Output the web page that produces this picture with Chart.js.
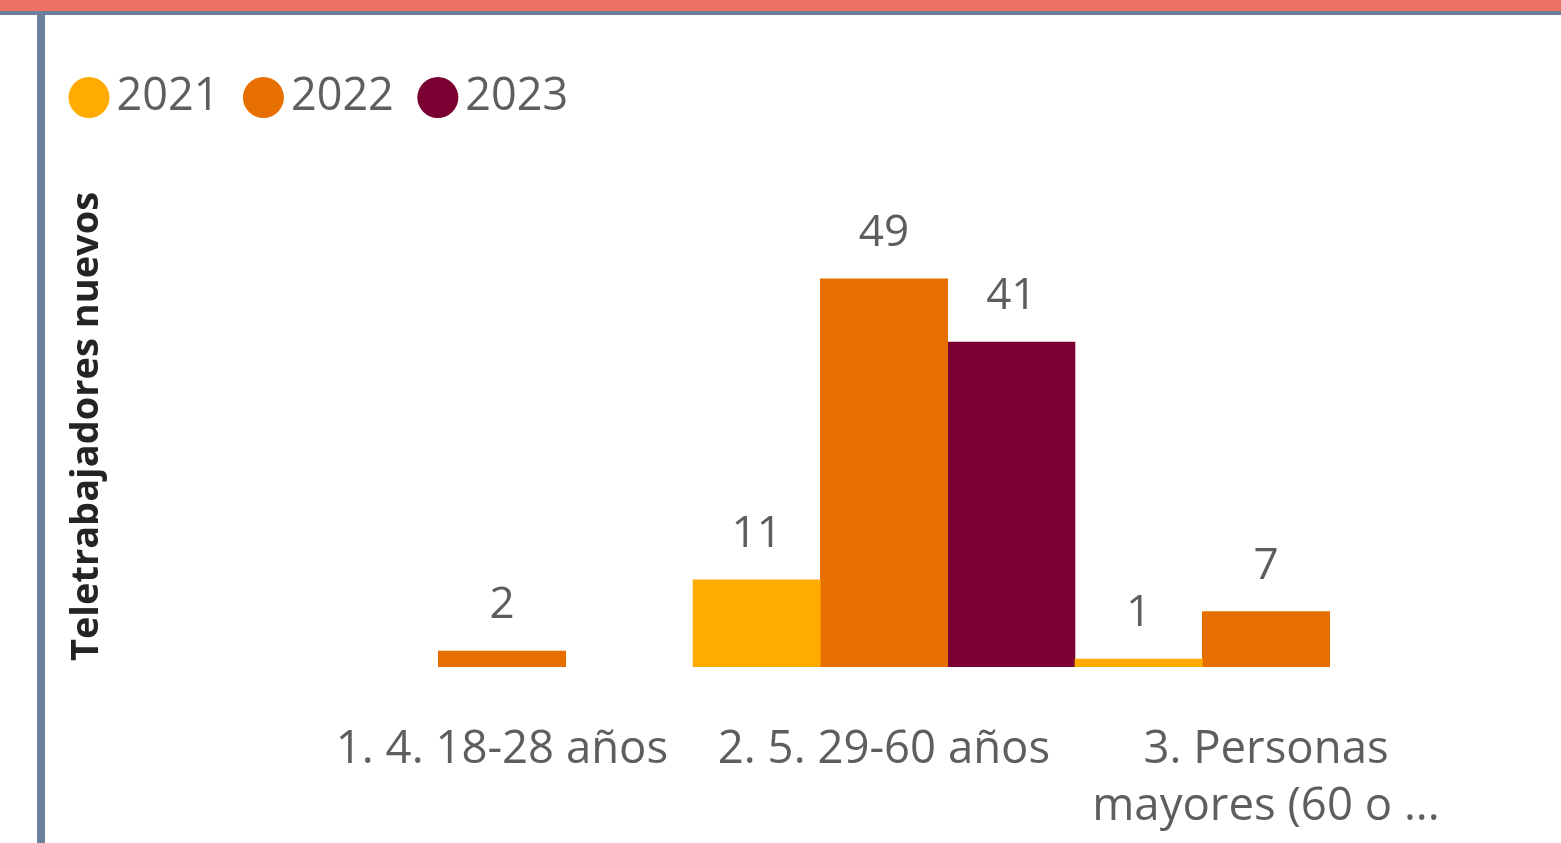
<!DOCTYPE html>
<html>
<head>
<meta charset="utf-8">
<script src="https://cdn.jsdelivr.net/npm/chart.js@4/dist/chart.umd.min.js"></script>
<style>
  html, body { margin: 0; padding: 0; background: #fff; overflow: hidden; }
  #wrap { position: relative; width: 1561px; height: 843px; }
  .topbar { position: absolute; left: 0; top: 0; width: 1561px; height: 11px; background: #ec7364; }
  .topline { position: absolute; left: 0; top: 11px; width: 1561px; height: 4px; background: #6c7f9b; }
  .leftbar { position: absolute; left: 37px; top: 15px; width: 8px; height: 828px; background: #6c7f9b; }
  #box { position: absolute; left: 0; top: 0; width: 1561px; height: 843px; }
</style>
</head>
<body>
<div id="wrap">
  <div class="topbar"></div>
  <div class="topline"></div>
  <div class="leftbar"></div>
  <div id="box"><canvas id="chart"></canvas></div>
</div>
<script>
const categories = [
  "1. 4. 18-28 años",
  "2. 5. 29-60 años",
  ["3. Personas", "mayores (60 o ..."]
];
const years = ["2021", "2022", "2023"];
const values2021 = [null, 11, 1];
const values2022 = [2, 49, 7];
const values2023 = [null, 41, null];
const colors = ["#ffab00", "#e66f00", "#7b0032"];

const font = "'Segoe UI', 'Open Sans', sans-serif";
const textGray = "#605e5c";

// value labels above each bar
const valueLabels = {
  id: "valueLabels",
  afterDatasetsDraw(chart) {
    const ctx = chart.ctx;
    ctx.save();
    ctx.font = "44px " + font;
    ctx.fillStyle = textGray;
    ctx.textAlign = "center";
    ctx.textBaseline = "alphabetic";
    chart.data.datasets.forEach((ds, i) => {
      chart.getDatasetMeta(i).data.forEach((bar, j) => {
        const v = ds.data[j];
        if (v === null || v === undefined) return;
        ctx.fillText(String(v), bar.x, bar.y - 33);
      });
    });
    ctx.restore();
  }
};

new Chart(document.getElementById("chart"), {
  type: "bar",
  data: {
    labels: categories,
    datasets: [
      { label: years[0], data: values2021, backgroundColor: colors[0] },
      { label: years[1], data: values2022, backgroundColor: colors[1] },
      { label: years[2], data: values2023, backgroundColor: colors[2] }
    ]
  },
  options: {
    responsive: true,
    maintainAspectRatio: false,
    animation: false,
    datasets: { bar: { barPercentage: 1, categoryPercentage: 1 } },
    layout: { padding: { left: 45, right: 104, top: 36, bottom: 0 } },
    plugins: {
      tooltip: { enabled: false },
      legend: {
        position: "top",
        align: "start",
        labels: {
          usePointStyle: true,
          pointStyle: "circle",
          boxWidth: 10,
          boxHeight: 29,
          padding: 39,
          color: textGray,
          font: { family: font, size: 45 }
        }
      },
      // empty spacer between legend and plot
      subtitle: {
        display: true,
        text: "",
        weight: 500,
        padding: { top: 48, bottom: 0 },
        font: { size: 8, lineHeight: 1 }
      }
    },
    scales: {
      x: {
        grid: { display: false, drawTicks: false },
        border: { display: false },
        ticks: {
          color: textGray,
          padding: 55,
          maxRotation: 0,
          autoSkip: false,
          font: { family: font, size: 45.5, lineHeight: 1.24 }
        },
        afterFit(scale) { scale.height = 176; }
      },
      y: {
        min: 0,
        max: 60.7,
        grid: { display: false, drawTicks: false },
        border: { display: false },
        ticks: { display: false },
        title: {
          display: true,
          text: "Teletrabajadores nuevos",
          color: "#252423",
          padding: { top: 19, bottom: 0 },
          font: { family: font, size: 38, weight: "bold", lineHeight: 1.2 }
        },
        afterFit(scale) { scale.width = 266; }
      }
    }
  },
  plugins: [valueLabels]
});
</script>
</body>
</html>
